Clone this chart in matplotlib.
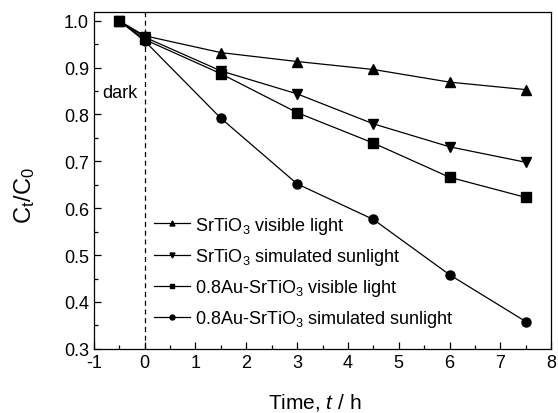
import matplotlib
matplotlib.use("Agg")
import matplotlib.pyplot as plt
from matplotlib.ticker import MultipleLocator

plt.rcParams['font.family'] = ['Liberation Sans', 'DejaVu Sans']
plt.rcParams['mathtext.fontset'] = 'custom'
plt.rcParams['mathtext.rm'] = 'Liberation Sans'
plt.rcParams['mathtext.it'] = 'Liberation Sans:italic'
plt.rcParams['axes.unicode_minus'] = False

time = [-0.5, 0, 1.5, 3, 4.5, 6, 7.5]
sto_visible = [1.0, 0.968, 0.932, 0.913, 0.896, 0.869, 0.853]
sto_sun = [1.0, 0.965, 0.893, 0.844, 0.780, 0.731, 0.698]
au_visible = [1.0, 0.960, 0.887, 0.804, 0.739, 0.666, 0.623]
au_sun = [1.0, 0.957, 0.792, 0.652, 0.576, 0.458, 0.358]

labels = ['SrTiO$_3$ visible light', 'SrTiO$_3$ simulated sunlight',
          '0.8Au-SrTiO$_3$ visible light', '0.8Au-SrTiO$_3$ simulated sunlight']
markers = ['^', 'v', 's', 'o']

fig, ax = plt.subplots(figsize=(5.58, 4.14), dpi=100)
fig.subplots_adjust(left=0.168, right=0.988, top=0.969, bottom=0.155)

for ys, m, lab in zip([sto_visible, sto_sun, au_visible, au_sun], markers, labels):
    ax.plot(time, ys, color='black', lw=0.9, marker=m, markersize=6.5, label=lab)

ax.axvline(0, color='black', lw=0.9, ls=(0, (4, 3)))
ax.text(-0.84, 0.846, 'dark', fontsize=13, va='center', ha='left')

ax.set_xlim(-1, 8)
ax.set_ylim(0.3, 1.019)
ax.xaxis.set_major_locator(MultipleLocator(1))
ax.xaxis.set_minor_locator(MultipleLocator(0.5))
ax.yaxis.set_minor_locator(MultipleLocator(0.05))
ax.set_yticks([0.3, 0.4, 0.5, 0.6, 0.7, 0.8, 0.9, 1.0])
ax.set_yticklabels(['0.3', '0.4', '0.5', '0.6', '0.7', '0.8', '0.9', '1.0'])
ax.tick_params(which='both', direction='in', top=False, right=False, labelsize=13)
ax.tick_params(which='major', length=5, width=0.9)
ax.tick_params(which='minor', length=3, width=0.9)
for s in ax.spines.values():
    s.set_linewidth(0.9)

ax.set_xlabel('Time, $\\it{t}$ / h', fontsize=15)
ax.xaxis.set_label_coords(0.484, -0.125)
ax.set_ylabel('$\\mathrm{C_t/C_0}$', fontsize=17)
ax.yaxis.set_label_coords(-0.125, 0.457)

leg = ax.legend(loc='lower left', bbox_to_anchor=(0.115, 0.036), frameon=False,
                fontsize=13, handlelength=2.0, markerscale=0.55,
                handletextpad=0.3, labelspacing=0.57, borderaxespad=0)

fig.savefig('out.png', dpi=100)
